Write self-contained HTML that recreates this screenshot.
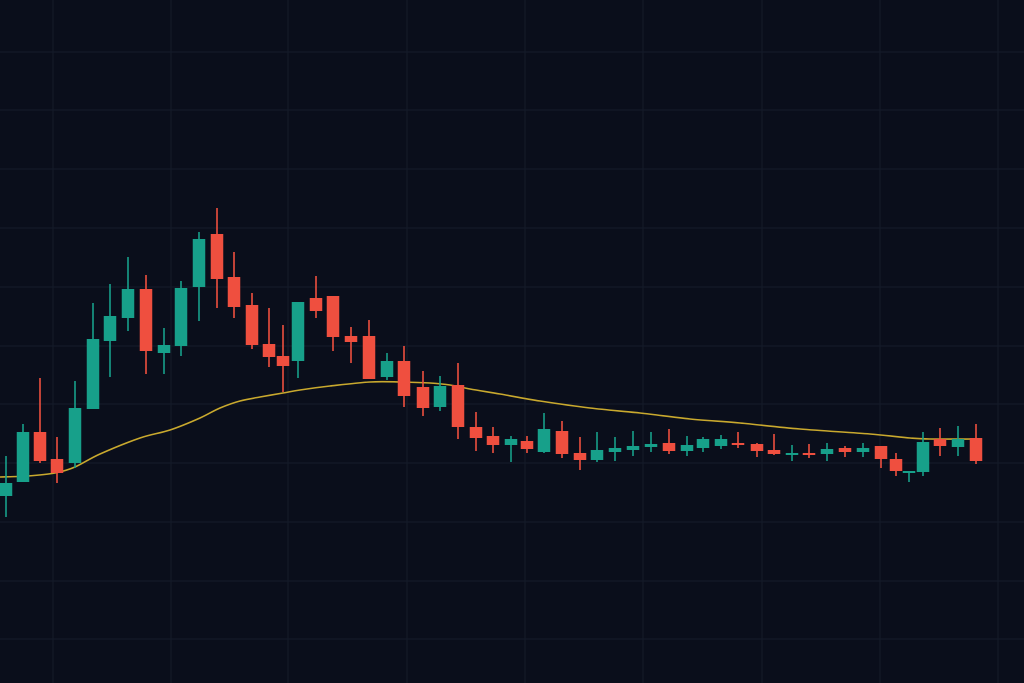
<!DOCTYPE html>
<html>
<head>
<meta charset="utf-8">
<style>
html,body{margin:0;padding:0;background:#0a0e1b;}
body{width:1024px;height:683px;overflow:hidden;font-family:"Liberation Sans",sans-serif;}
svg{display:block;}
</style>
</head>
<body>
<svg width="1024" height="683" viewBox="0 0 1024 683" xmlns="http://www.w3.org/2000/svg">
<rect x="0" y="0" width="1024" height="683" fill="#0a0e1b"/>
<g stroke="#141a28" stroke-width="1.2">
<line x1="0" y1="52" x2="1024" y2="52"/>
<line x1="0" y1="110" x2="1024" y2="110"/>
<line x1="0" y1="169" x2="1024" y2="169"/>
<line x1="0" y1="228" x2="1024" y2="228"/>
<line x1="0" y1="287" x2="1024" y2="287"/>
<line x1="0" y1="346" x2="1024" y2="346"/>
<line x1="0" y1="404" x2="1024" y2="404"/>
<line x1="0" y1="463" x2="1024" y2="463"/>
<line x1="0" y1="522" x2="1024" y2="522"/>
<line x1="0" y1="581" x2="1024" y2="581"/>
<line x1="0" y1="639" x2="1024" y2="639"/>
<line x1="53" y1="0" x2="53" y2="683"/>
<line x1="171" y1="0" x2="171" y2="683"/>
<line x1="288" y1="0" x2="288" y2="683"/>
<line x1="407" y1="0" x2="407" y2="683"/>
<line x1="525" y1="0" x2="525" y2="683"/>
<line x1="643" y1="0" x2="643" y2="683"/>
<line x1="762" y1="0" x2="762" y2="683"/>
<line x1="880" y1="0" x2="880" y2="683"/>
<line x1="998" y1="0" x2="998" y2="683"/>
</g>
<path id="ma" fill="none" stroke="#c9a92e" stroke-width="1.6" stroke-linejoin="round" d="M0,477 L975,439"/>
<g id="candles"></g>
</svg>
<script>
(function(){
var pts=[[0,477],[28,476],[55,473],[75,467],[100,454],[140,438],[170,430],[200,418],[220,408],[240,401],[260,397],[283,393],[300,390],[330,386],[370,382],[400,382],[430,383],[450,385],[470,389],[500,394],[540,401],[590,408],[640,413],[690,419],[740,423],[800,429],[870,434],[910,438],[930,439],[975,439]];
var s="M"+pts[0][0]+","+pts[0][1];
for(var i=0;i<pts.length-1;i++){
 var p0=pts[i>0?i-1:i],p1=pts[i],p2=pts[i+1],p3=pts[i+2<pts.length?i+2:i+1];
 var c1x=p1[0]+(p2[0]-p0[0])/6,c1y=p1[1]+(p2[1]-p0[1])/6;
 var c2x=p2[0]-(p3[0]-p1[0])/6,c2y=p2[1]-(p3[1]-p1[1])/6;
 s+=" C"+c1x.toFixed(1)+","+c1y.toFixed(1)+" "+c2x.toFixed(1)+","+c2y.toFixed(1)+" "+p2[0]+","+p2[1];
}
document.getElementById("ma").setAttribute("d",s);
var G="#17a08a",R="#ef4f3f";
var d=[
[6,G,456,483,496,517],[23,G,424,432,482,482],[40,R,378,432,461,463],[57,R,437,459,473,483],
[75,G,381,408,463,468],[93,G,303,339,409,409],[110,G,284,316,341,377],[128,G,257,289,318,331],
[146,R,275,289,351,374],[164,G,328,345,353,374],[181,G,281,288,346,356],[199,G,232,239,287,321],
[217,R,208,234,279,308],[234,R,252,277,307,318],[252,R,293,305,345,349],[269,R,308,344,357,367],
[283,R,325,356,366,392],[298,G,302,302,361,378],[316,R,276,298,311,318],[333,R,296,296,337,351],
[351,R,327,336,342,363],[369,R,320,336,379,379],[387,G,353,361,377,380],[404,R,346,361,396,407],
[423,R,371,387,408,416],[440,G,376,386,407,411],[458,R,363,385,427,439],[476,R,412,427,438,451],
[493,R,427,436,445,453],[511,G,436,439,445,462],[527,R,436,441,449,453],[544,G,413,429,452,453],
[562,R,421,431,454,458],[580,R,437,453,460,470],[597,G,432,450,460,462],[615,G,437,448,452,461],
[633,G,431,446,450,456],[651,G,432,444,447,452],[669,R,429,443,451,454],[687,G,436,445,451,456],
[703,G,437,439,448,452],[721,G,435,439,446,449],[738,R,432,443,445,448],[757,R,443,444,451,457],
[774,R,434,450,454,455],[792,G,445,453,455,461],[809,R,444,453,455,458],[827,G,443,449,454,461],
[845,R,446,448,452,457],[863,G,443,448,452,457],[881,R,446,446,459,468],[896,R,453,459,471,476],
[909,G,471,471,473,482],[923,G,432,442,472,476],[940,R,428,439,446,456],[958,G,426,439,447,456],
[976,R,424,438,461,464]
];
var ns="http://www.w3.org/2000/svg",g=document.getElementById("candles"),w=12.5;
d.forEach(function(c){
 var l=document.createElementNS(ns,"line");
 l.setAttribute("x1",c[0]);l.setAttribute("x2",c[0]);
 l.setAttribute("y1",c[2]);l.setAttribute("y2",c[5]);
 l.setAttribute("stroke",c[1]);l.setAttribute("stroke-width","1.6");
 g.appendChild(l);
 var r=document.createElementNS(ns,"rect");
 var h=Math.max(c[4]-c[3],2);
 r.setAttribute("x",c[0]-w/2);r.setAttribute("y",c[3]);
 r.setAttribute("width",w);r.setAttribute("height",h);
 r.setAttribute("fill",c[1]);
 g.appendChild(r);
});
})();
</script>
</body>
</html>
